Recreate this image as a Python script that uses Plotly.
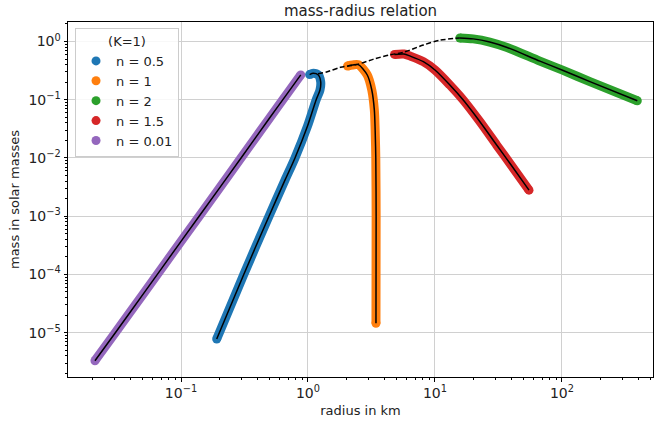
import plotly.graph_objects as go

# ---- data ----
r_n05 = [0.191, 0.312, 0.493, 0.66, 0.79, 0.99, 1.16, 1.243, 1.259, 1.206, 1.10, 1.03]
m_n05 = [7.8e-6, 1.0e-4, 1.0e-3, 4.2e-3, 1.0e-2, 3.5e-2, 0.10, 0.147, 0.204, 0.266, 0.284, 0.27]

r_n1 = [3.43, 3.44, 3.42, 3.38, 3.33, 3.18, 2.93, 2.49, 2.25, 2.05]
m_n1 = [1.45e-5, 1.0e-3, 1.0e-2, 3.0e-2, 6.7e-2, 0.147, 0.266, 0.40, 0.395, 0.38]

r_n2 = [15.7, 20.0, 27.0, 37.0, 67.0, 100.0, 166.0, 392.0]
m_n2 = [1.15, 1.11, 0.98, 0.79, 0.46, 0.325, 0.205, 0.096]

r_n15 = [4.8, 5.7, 6.4, 8.1, 10.0, 13.1, 16.7, 22.6, 30.6, 38.9, 55.0]
m_n15 = [0.60, 0.61, 0.56, 0.45, 0.324, 0.179, 0.099, 0.042, 0.0167, 8.1e-3, 2.8e-3]

r_n001 = [0.021, 0.03, 0.05, 0.1, 0.2, 0.3, 0.5, 0.7, 0.877]
m_n001 = [3.3e-6, 9.6e-6, 4.5e-5, 3.7e-4, 3.0e-3, 1.03e-2, 4.9e-2, 0.135, 0.267]

r_max = [1.2, 1.4, 1.8, 2.45, 3.3, 4.4, 5.6, 8.1, 10.9, 15.7]
m_max = [0.28, 0.30, 0.36, 0.405, 0.50, 0.59, 0.65, 0.87, 1.05, 1.15]

series = [
    ("n = 0.5", r_n05, m_n05, "#1f77b4"),
    ("n = 1", r_n1, m_n1, "#ff7f0e"),
    ("n = 2", r_n2, m_n2, "#2ca02c"),
    ("n = 1.5", r_n15, m_n15, "#d62728"),
    ("n = 0.01", r_n001, m_n001, "#9467bd"),
]

x_tickvals = [0.1, 1, 10, 100]
x_ticktext = ["10<sup>\u22121</sup>", "10<sup>0</sup>", "10<sup>1</sup>", "10<sup>2</sup>"]
y_tickvals = [1e-5, 1e-4, 1e-3, 1e-2, 1e-1, 1]
y_ticktext = ["10<sup>\u22125</sup>", "10<sup>\u22124</sup>", "10<sup>\u22123</sup>",
              "10<sup>\u22122</sup>", "10<sup>\u22121</sup>", "10<sup>0</sup>"]

fig = go.Figure()
for name, r, m, col in series:
    fig.add_trace(go.Scatter(x=r, y=m, mode="lines", line=dict(color=col, width=9, shape="spline", smoothing=0.8),
                             showlegend=False, hoverinfo="skip"))
    fig.add_trace(go.Scatter(x=[r[0], r[-1]], y=[m[0], m[-1]], mode="markers",
                             marker=dict(color=col, size=9, line=dict(width=0)),
                             showlegend=False, hoverinfo="skip"))
    fig.add_trace(go.Scatter(x=r, y=m, mode="lines",
                             line=dict(color="black", width=1.5, shape="spline", smoothing=0.8),
                             showlegend=False, hoverinfo="skip"))
    fig.add_trace(go.Scatter(x=[None], y=[None], mode="markers", name=name,
                             marker=dict(color=col, size=9)))

fig.add_trace(go.Scatter(x=r_max, y=m_max, mode="lines",
                         line=dict(color="black", width=1.5, dash="5px,2.5px", shape="spline", smoothing=0.8),
                         showlegend=False, hoverinfo="skip"))

minor_x = [k * 10 ** e for e in range(-2, 3) for k in range(2, 10)]
minor_y = [k * 10 ** e for e in range(-6, 1) for k in range(2, 10)]

font = "DejaVu Sans"
axis_common = dict(type="log", showline=True, linecolor="black", linewidth=1, mirror=True,
                   ticks="outside", ticklen=3.5, tickwidth=1, tickcolor="black",
                   showgrid=True, gridcolor="#d0d0d0", gridwidth=1, zeroline=False,
                   tickfont=dict(family=font, size=14, color="#222"))

fig.update_layout(
    width=654, height=422,
    margin=dict(l=68, r=1, t=22, b=45),
    paper_bgcolor="white", plot_bgcolor="white",
    font=dict(family=font, color="#222"),
    title=dict(text="mass-radius relation", x=0.5, xref="paper", y=1 - 11 / 422,
               yanchor="middle", font=dict(family=font, size=15, color="#222")),
    xaxis=dict(range=[-1.89, 2.717], tickvals=x_tickvals, ticktext=x_ticktext,
               minor=dict(tickvals=minor_x, ticks="outside", ticklen=2, tickcolor="black",
                          showgrid=False),
               title=dict(text="radius in km", font=dict(family=font, size=13), standoff=5),
               **axis_common),
    yaxis=dict(range=[-5.761, 0.335], tickvals=y_tickvals, ticktext=y_ticktext,
               minor=dict(tickvals=minor_y, ticks="outside", ticklen=2, tickcolor="black",
                          showgrid=False),
               title=dict(text="mass in solar masses", font=dict(family=font, size=13), standoff=5),
               **axis_common),
    legend=dict(x=0.012, y=0.983, xanchor="left", yanchor="top",
                bgcolor="rgba(255,255,255,0.85)", bordercolor="#cccccc", borderwidth=1,
                font=dict(family=font, size=13, color="#222"),
                title=dict(text="(K=1)", side="top center", font=dict(family=font, size=13))),
)

fig.write_html("out.html")
